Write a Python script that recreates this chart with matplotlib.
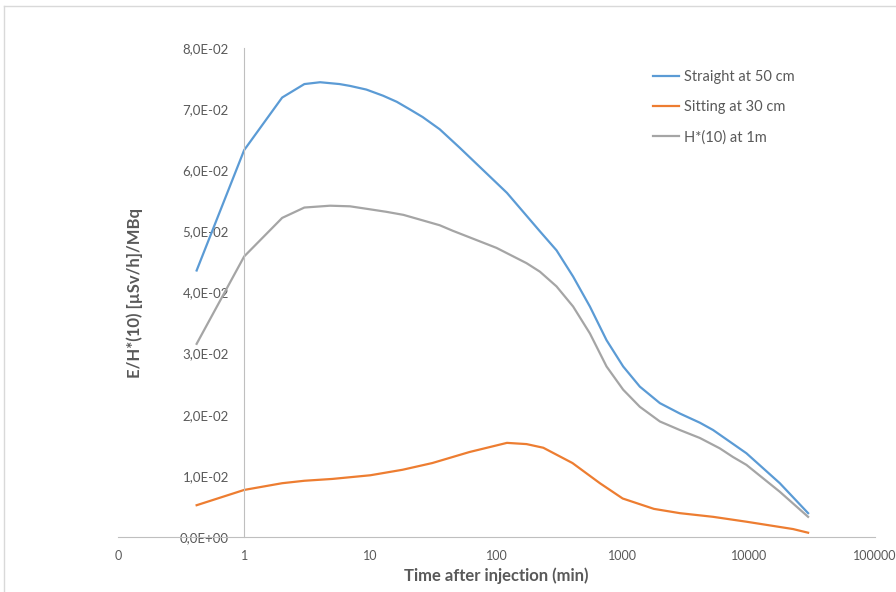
import matplotlib
matplotlib.use("Agg")
import matplotlib.pyplot as plt
from matplotlib.lines import Line2D
from matplotlib.ticker import FixedLocator, FuncFormatter, NullLocator

plt.rcParams['font.family'] = ['Lato', 'DejaVu Sans']

# time after injection (min)
t_straight = [0.42, 1, 2, 3, 4, 5.7, 6.9, 9.3, 12.6, 16.2, 20.4, 26, 35.5, 51, 121,
              221, 299, 405, 550, 745, 1009, 1368, 1972, 2840, 4090, 5210,
              9570, 17600, 29500]
straight_50cm = [0.0436, 0.0633, 0.0719, 0.0741, 0.0744, 0.0741, 0.0738, 0.0732,
                 0.0722, 0.0712, 0.0700, 0.0687, 0.0667, 0.0637, 0.0563, 0.0500,
                 0.0469, 0.0426, 0.0377, 0.0322, 0.0279, 0.0246, 0.0219, 0.0202,
                 0.0187, 0.0175, 0.0137, 0.0088, 0.0039]

t_sitting = [0.42, 1, 2, 3, 5, 10, 18, 31, 61, 121, 173, 235, 400, 660, 1000,
             1770, 2840, 5210, 9570, 22400, 29500]
sitting_30cm = [0.0052, 0.0077, 0.0088, 0.0092, 0.0095, 0.0101, 0.0110, 0.0121,
                0.0139, 0.0154, 0.0152, 0.0146, 0.0121, 0.0088, 0.0063, 0.0046,
                0.0039, 0.0033, 0.0025, 0.0013, 0.0007]

t_h10 = [0.42, 1, 2, 3, 4.8, 6.9, 9.3, 13.4, 18.3, 26, 35.5, 45, 100, 173, 221,
         299, 405, 550, 745, 1009, 1368, 1972, 2840, 4090, 5890, 7470, 9570,
         17600, 29500]
h10_1m = [0.0316, 0.0459, 0.0522, 0.0539, 0.0542, 0.0541, 0.0537, 0.0532, 0.0527,
          0.0518, 0.0510, 0.0501, 0.0473, 0.0448, 0.0434, 0.0410, 0.0377, 0.0333,
          0.0279, 0.0241, 0.0213, 0.0189, 0.0175, 0.0162, 0.0145, 0.0131, 0.0118,
          0.0074, 0.0033]

x_ticks = [0.1, 1, 10, 100, 1000, 10000, 100000]
x_labels = ['0', '1', '10', '100', '1000', '10000', '100000']
y_ticks = [0, 0.01, 0.02, 0.03, 0.04, 0.05, 0.06, 0.07, 0.08]

txt = '#595959'
axis_col = '#BFBFBF'

fig = plt.figure(figsize=(8.96, 5.92), dpi=100)
ax = fig.add_axes([118 / 896, 1 - 537 / 592, (875 - 118) / 896, (537 - 48) / 592])

ax.plot(t_straight, straight_50cm, color='#5B9BD5', lw=1.6, label='Straight at 50 cm')
ax.plot(t_sitting, sitting_30cm, color='#ED7D31', lw=1.6, label='Sitting at 30 cm')
ax.plot(t_h10, h10_1m, color='#A5A5A5', lw=1.6, label='H*(10) at 1m')

ax.set_xscale('log')
ax.set_xlim(0.1, 100000)
ax.set_ylim(0, 0.08)
ax.xaxis.set_major_locator(FixedLocator(x_ticks))
ax.set_xticklabels(x_labels)
ax.xaxis.set_minor_locator(NullLocator())
ax.yaxis.set_major_locator(FixedLocator(y_ticks))
ax.yaxis.set_major_formatter(FuncFormatter(lambda v, p: f"{v:.1E}".replace('.', ',')))

for s in ['top', 'right']:
    ax.spines[s].set_visible(False)
ax.spines['left'].set_position(('data', 1))
ax.spines['left'].set_color(axis_col)
ax.spines['bottom'].set_color(axis_col)
ax.tick_params(axis='both', length=0, labelcolor=txt)
ax.tick_params(axis='y', pad=11, labelsize=9.5)
ax.tick_params(axis='x', pad=9, labelsize=9)

ax.set_xlabel('Time after injection (min)', fontsize=12, fontweight='bold', color=txt, labelpad=4)
ax.set_ylabel('E/H*(10) [µSv/h]/MBq', fontsize=12, fontweight='bold', color=txt)
ax.yaxis.set_label_coords((143 - 118) / 757, 0.5)

leg = ax.legend(loc='upper left', bbox_to_anchor=(640 / 896, 1 - 57 / 592),
                bbox_transform=fig.transFigure, frameon=False, fontsize=10.5,
                handlelength=1.8, handletextpad=0.3, labelspacing=1.1)
for t in leg.get_texts():
    t.set_color(txt)

# outer chart border
fig.add_artist(Line2D([4 / 896, 4 / 896], [0, 1 - 6 / 592], color='#D9D9D9', lw=1,
                      transform=fig.transFigure))
fig.add_artist(Line2D([4 / 896, 1], [1 - 6 / 592, 1 - 6 / 592], color='#D9D9D9', lw=1,
                      transform=fig.transFigure))

fig.savefig('out.png', dpi=100)
